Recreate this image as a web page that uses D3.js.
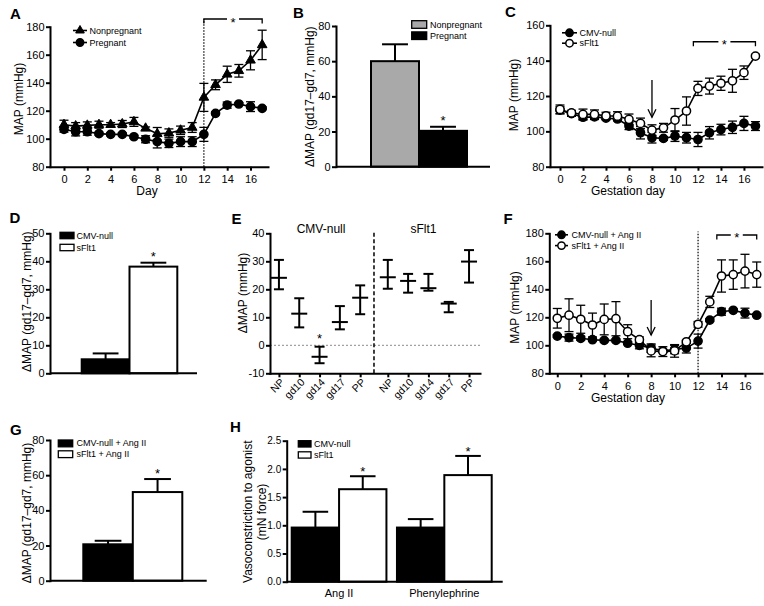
<!DOCTYPE html>
<html><head><meta charset="utf-8">
<script src="https://cdn.jsdelivr.net/npm/d3@7/dist/d3.min.js"></script>
<style>
body{margin:0;background:#fff;}
svg text{font-family:"Liberation Sans",Arial,Helvetica,sans-serif;fill:#000;}
</style></head><body>
<svg id="fig" width="764" height="606" xmlns="http://www.w3.org/2000/svg"></svg>
<script>
// ================= DATA =================
const days = [0,1,2,3,4,5,6,7,8,9,10,11,12,13,14,15,16,17];
const dayTicks = [0,2,4,6,8,10,12,14,16];

// Panel A
const aNonpregMean = [110,109,109.5,110,110,110.5,112,107.4,103.5,104,106,108,129.5,138.5,146,148.5,156,167];
const aNonpregErr  = [3.2,2.5,2.5,2.5,1.5,2.5,3.2,1,4.5,3,3,3.5,10,3.5,5.8,4.5,6.8,10.5];
const aPregMean    = [106.7,105,105,103.6,103.1,103.1,101.4,99.6,97.9,96.7,97.9,97.9,103.1,118.1,124,124.8,122.9,121.7];
const aPregErr     = [2,3,2.5,1,1,1,1,2.5,4.5,3,3.5,3.5,5,1,2.2,1,3.5,1];
const aYTicks = [80,100,120,140,160,180];

// Panel B
const bCats = ["Nonpregnant","Pregnant"];
const bMean = [60,20.4];
const bErr  = [9.6,2.3];
const bYTicks = [0,20,40,60,80];

// Panel C
const cCmvMean  = [112,110,108,108.2,107.5,107,103,99.2,96.4,96,97.3,96.4,95.4,99.2,101,102.3,104.5,103];
const cCmvErr   = [2,1.5,1.5,1.5,1,1,2,3.5,3,1,3,3,4,3.5,3,3.5,4,2.5];
const cSfltMean = [112.4,110.4,109.6,109.6,108.8,108.6,106.8,104.5,100.7,102,106.4,111.5,124.3,125.6,127.2,128.6,133.2,142.6];
const cSfltErr  = [2.5,1.5,3,2.5,2,2.5,3,3,3,2.5,6.5,8,4,4.5,4,6.5,3.8,1];
const cYTicks = [80,100,120,140,160];

// Panel D
const dCats = ["CMV-null","sFlt1"];
const dMean = [5,38.1];
const dErr  = [2.1,1.4];
const dYTicks = [0,10,20,30,40,50];

// Panel E
const eGroups = ["CMV-null","sFlt1"];
const eCats = ["NP","gd10","gd14","gd17","PP"];
const eCmvMean  = [24.1,11.3,-4.1,8.3,17];
const eCmvLo    = [20,6.4,-6.4,5.7,11.1];
const eCmvHi    = [30.5,16.8,-0.5,14,21.4];
const eSfltMean = [24.3,23,20.4,14.9,29.9];
const eSfltLo   = [20.2,18.8,19.5,11.8,22.4];
const eSfltHi   = [30.5,25.5,25.5,15.5,34];
const eYTicks = [-10,0,10,20,30,40];

// Panel F
const fCmvMean  = [106.6,105.5,105,104,103.5,103.5,101.5,100,98,96,97,98,103,118,124,125,123,121.5];
const fCmvErr   = [1,2.5,1.5,1,1,1,1,2.5,3,1,3,3.5,5,1,2.5,1,3.5,1];
const fSfltMean = [119.3,121.5,118.6,114.5,118.5,119,109.7,104,96,95.5,96,102.5,115,131,149.5,150.5,153,150.5];
const fSfltErr  = [7,11.7,10,8.5,11,12.2,5,2,4.2,3.5,4.5,1,2,4,11.5,10.5,12,9];
const fYTicks = [80,100,120,140,160,180];

// Panel G
const gCats = ["CMV-null + Ang II","sFlt1 + Ang II"];
const gMean = [20.7,50.4];
const gErr  = [2,7.4];
const gYTicks = [0,20,40,60,80];

// Panel H
const hGroups = ["Ang II","Phenylephrine"];
const hSeries = ["CMV-null","sFlt1"];
const hCmvMean  = [0.96,0.96];
const hCmvErr   = [0.28,0.15];
const hSfltMean = [1.64,1.89];
const hSfltErr  = [0.23,0.34];
const hYTicks = [0,0.5,1.0,1.5,2.0,2.5];

// ================= DRAWING =================
const svg = d3.select("#fig");

function styleAxis(sel, fs) {
  sel.attr("font-family", null).attr("font-size", null);
  sel.select(".domain").attr("stroke","#000").attr("stroke-width",2).attr("stroke-linecap","square");
  sel.selectAll(".tick line").attr("stroke","#000").attr("stroke-width",2);
  sel.selectAll(".tick text").attr("fill","#000").style("font-size", fs + "px");
}
function letter(x, y, s) {
  svg.append("text").attr("x",x).attr("y",y).style("font-size","15px").style("font-weight","bold").text(s);
}
function yTitle(bx, cy, s) {
  svg.append("text").attr("transform",`translate(${bx},${cy}) rotate(-90)`)
    .attr("text-anchor","middle").style("font-size","12px").text(s);
}
function xTitle(cx, by, s) {
  svg.append("text").attr("x",cx).attr("y",by).attr("text-anchor","middle").style("font-size","12px").text(s);
}
function star(g, x, cy) {
  g.append("text").attr("x",x).attr("y",cy + 7.5).attr("text-anchor","middle").style("font-size","13px").text("*");
}
function marker(g, type, fill, cx, cy, sc) {
  sc = sc || 1;
  if (type === "tri") {
    g.append("path").attr("d", d3.symbol(d3.symbolTriangle, 40 * sc * sc)()).attr("transform",`translate(${cx},${cy})`)
      .attr("fill","#000").attr("stroke","#000").attr("stroke-width",1);
  } else {
    g.append("circle").attr("cx",cx).attr("cy",cy).attr("r",4.1 * sc)
      .attr("fill",fill).attr("stroke","#000").attr("stroke-width",1.5);
  }
}

function linePanel(o) {
  const g = svg.append("g");
  const x = d3.scaleLinear().domain(o.xDom).range(o.xRange);
  const y = d3.scaleLinear().domain(o.yDom).range(o.yRange);

  if (o.vline) {
    g.append("line").attr("x1",x(o.vline.at)).attr("x2",x(o.vline.at))
      .attr("y1",y(o.yDom[0])).attr("y2",y(o.vline.top))
      .attr("stroke","#000").attr("stroke-width",1.2).attr("stroke-dasharray","1.5,1.5");
  }
  o.series.forEach(s => {
    g.append("path").datum(days)
      .attr("d", d3.line().x(d => x(d)).y((d,i) => y(s.mean[i])))
      .attr("fill","none").attr("stroke","#000").attr("stroke-width",1.6);
  });
  o.series.forEach(s => {
    days.forEach((d,i) => {
      const cx = x(d), hi = y(s.mean[i] + s.err[i]), lo = y(s.mean[i] - s.err[i]);
      g.append("line").attr("x1",cx).attr("x2",cx).attr("y1",lo).attr("y2",hi).attr("stroke","#000").attr("stroke-width",1.3);
      [lo,hi].forEach(yy => g.append("line").attr("x1",cx-4.5).attr("x2",cx+4.5).attr("y1",yy).attr("y2",yy).attr("stroke","#000").attr("stroke-width",1.3));
    });
    days.forEach((d,i) => marker(g, s.type, s.fill, x(d), y(s.mean[i])));
  });
  const ax = g.append("g").attr("transform",`translate(0,${o.yRange[0]})`)
    .call(d3.axisBottom(x).tickValues(dayTicks).tickSize(4).tickSizeOuter(0).tickPadding(5));
  styleAxis(ax, 11);
  const ay = g.append("g").attr("transform",`translate(${o.xRange[0]},0)`)
    .call(d3.axisLeft(y).tickValues(o.yTicks).tickSize(4).tickSizeOuter(0).tickPadding(1.5));
  styleAxis(ay, 11);

  if (o.bracket) {
    const b = o.bracket, x0 = x(b.from), x1 = x(b.to), yy = y(b.at), mid = (x0 + x1) / 2;
    g.append("path").attr("d",`M${x0},${yy+4.5}V${yy}H${mid-6}M${mid+6},${yy}H${x1}V${yy+4.5}`)
      .attr("fill","none").attr("stroke","#000").attr("stroke-width",1.3);
    star(g, mid, yy);
  }
  if (o.arrow) {
    const ax0 = x(o.arrow.at), t = y(o.arrow.from), b = y(o.arrow.to);
    g.append("line").attr("x1",ax0).attr("x2",ax0).attr("y1",t).attr("y2",b).attr("stroke","#000").attr("stroke-width",1.3);
    g.append("path").attr("d",`M${ax0-4},${b-8}L${ax0},${b}L${ax0+4},${b-8}`).attr("fill","none").attr("stroke","#000").attr("stroke-width",1.3);
  }
  o.series.forEach((s,i) => {
    const ly = o.legend.ys[i];
    g.append("line").attr("x1",o.legend.x0).attr("x2",o.legend.x1).attr("y1",ly).attr("y2",ly).attr("stroke","#000").attr("stroke-width",1.6);
    marker(g, s.type, s.fill, (o.legend.x0 + o.legend.x1)/2, ly, 0.9);
    g.append("text").attr("x",o.legend.tx).attr("y",ly).attr("dominant-baseline","central").style("font-size","9px").text(s.label);
  });
}

function barAxisY(g, y, xPos, ticks, fmt, fs) {
  const ay = g.append("g").attr("transform",`translate(${xPos},0)`)
    .call(d3.axisLeft(y).tickValues(ticks).tickSize(4).tickSizeOuter(0).tickPadding(1.5).tickFormat(fmt || (d => String(d))));
  styleAxis(ay, fs || 11);
}
function barLegend(g, lg, labels, fills) {
  labels.forEach((lab,i) => {
    g.append("rect").attr("x",lg.x).attr("y",lg.ys[i]).attr("width",lg.w).attr("height",lg.h)
      .attr("fill",fills[i]).attr("stroke","#000").attr("stroke-width",1.3);
    g.append("text").attr("x",lg.tx).attr("y",lg.ys[i] + lg.h/2).attr("dominant-baseline","central").style("font-size","9px").text(lab);
  });
}
function drawBar(g, x0, w, val, err, y, fill) {
  g.append("rect").attr("x",x0).attr("y",y(val)).attr("width",w).attr("height",y(0)-y(val))
    .attr("fill",fill).attr("stroke","#000").attr("stroke-width",2);
  const cx = x0 + w/2, top = y(val + err);
  g.append("line").attr("x1",cx).attr("x2",cx).attr("y1",y(val)).attr("y2",top).attr("stroke","#000").attr("stroke-width",2);
  g.append("line").attr("x1",cx - w*0.27).attr("x2",cx + w*0.27).attr("y1",top).attr("y2",top).attr("stroke","#000").attr("stroke-width",2);
}

function barPanel(o) {
  const g = svg.append("g");
  const x = d3.scaleBand().domain(o.cats).range(o.barRange).padding(0);
  const y = d3.scaleLinear().domain(o.yDom).range(o.yRange);
  o.cats.forEach((c,i) => drawBar(g, x(c), x.bandwidth(), o.mean[i], o.err[i], y, o.fills[i]));
  o.stars.forEach(i => star(g, x(o.cats[i]) + x.bandwidth()/2, y(o.mean[i] + o.err[i]) - 9));
  g.append("line").attr("x1",o.yAxisX).attr("x2",o.axisEnd).attr("y1",y(0)).attr("y2",y(0)).attr("stroke","#000").attr("stroke-width",2);
  barAxisY(g, y, o.yAxisX, o.yTicks);
  barLegend(g, o.legend, o.cats, o.fills);
}

// ---------- Panel A ----------
letter(10, 18.5, "A");
linePanel({
  xDom:[-1.2,17.5], xRange:[50,268], yDom:[80,180], yRange:[166.7,26.7], yTicks:aYTicks,
  series:[
    {label:"Nonpregnant", mean:aNonpregMean, err:aNonpregErr, type:"tri", fill:"#000"},
    {label:"Pregnant", mean:aPregMean, err:aPregErr, type:"circle", fill:"#000"}
  ],
  vline:{at:12, top:185.5},
  bracket:{from:12, to:17, at:185.5},
  legend:{x0:73, x1:87, ys:[30.5,42.5], tx:89.5}
});
yTitle(23, 99, "MAP (mmHg)");
xTitle(147, 195, "Day");

// ---------- Panel B ----------
letter(293, 18, "B");
barPanel({
  cats:bCats, mean:bMean, err:bErr, fills:["#a9a9a9","#000"], stars:[1],
  barRange:[371,467], yDom:[0,80], yRange:[166.7,26], yTicks:bYTicks, yAxisX:336, axisEnd:490,
  legend:{x:411.7, w:15, h:7.6, ys:[20.7,31.9], tx:430}
});
yTitle(314, 96.7, "ΔMAP (gd17–gd7, mmHg)");

// ---------- Panel C ----------
letter(505, 17, "C");
linePanel({
  xDom:[-0.87,17.57], xRange:[550,762], yDom:[80,160], yRange:[166.7,25.3], yTicks:cYTicks,
  series:[
    {label:"CMV-null", mean:cCmvMean, err:cCmvErr, type:"circle", fill:"#000"},
    {label:"sFlt1", mean:cSfltMean, err:cSfltErr, type:"circle", fill:"#fff"}
  ],
  bracket:{from:11.6, to:17, at:150.7},
  arrow:{at:8, from:129, to:108},
  legend:{x0:562, x1:577, ys:[32.8,43.2], tx:579.5}
});
yTitle(518, 95, "MAP (mmHg)");
xTitle(628, 195, "Gestation day");

// ---------- Panel D ----------
letter(9.5, 223, "D");
barPanel({
  cats:dCats, mean:dMean, err:dErr, fills:["#000","#fff"], stars:[1],
  barRange:[81.7,177.3], yDom:[0,50], yRange:[373.3,233.3], yTicks:dYTicks, yAxisX:50, axisEnd:197,
  legend:{x:60, w:14, h:6.4, ys:[232.3,244.3], tx:76.5}
});
yTitle(30.5, 301.7, "ΔMAP (gd17–gd7, mmHg)");

// ---------- Panel E ----------
letter(231.5, 224, "E");
(function(){
  const g = svg.append("g");
  const groupOffset = 5.36;
  const xE = d3.scaleLinear().domain([-0.44, 9.9]).range([270, 480]);
  const yE = d3.scaleLinear().domain([-10, 40]).range([373.3, 233.3]);
  const slots = [], labels = [];
  const groups = [
    {mean:eCmvMean, lo:eCmvLo, hi:eCmvHi},
    {mean:eSfltMean, lo:eSfltLo, hi:eSfltHi}
  ];
  g.append("line").attr("x1",270).attr("x2",480).attr("y1",yE(0)).attr("y2",yE(0))
    .attr("stroke","#8a8a8a").attr("stroke-width",1).attr("stroke-dasharray","2,2");
  const divX = xE((eCats.length - 1 + groupOffset) / 2);
  g.append("line").attr("x1",divX).attr("x2",divX).attr("y1",yE(-10)).attr("y2",yE(40.6))
    .attr("stroke","#000").attr("stroke-width",1.5).attr("stroke-dasharray","4,2.5");
  groups.forEach((gr, gi) => {
    eCats.forEach((c, ci) => {
      const s = ci + gi * groupOffset;
      slots.push(s); labels.push(c);
      const cx = xE(s);
      g.append("line").attr("x1",cx).attr("x2",cx).attr("y1",yE(gr.lo[ci])).attr("y2",yE(gr.hi[ci])).attr("stroke","#000").attr("stroke-width",2);
      [gr.lo[ci], gr.hi[ci]].forEach(v => g.append("line").attr("x1",cx-5).attr("x2",cx+5).attr("y1",yE(v)).attr("y2",yE(v)).attr("stroke","#000").attr("stroke-width",2));
      g.append("line").attr("x1",cx-8).attr("x2",cx+8).attr("y1",yE(gr.mean[ci])).attr("y2",yE(gr.mean[ci])).attr("stroke","#000").attr("stroke-width",2);
    });
    const mid = xE((eCats.length - 1) / 2 + gi * groupOffset) + (gi === 0 ? 1.5 : -5);
    g.append("text").attr("x",mid).attr("y",232.7).attr("text-anchor","middle").style("font-size","12px").text(eGroups[gi]);
  });
  star(g, xE(2), yE(eCmvHi[2]) - 11);
  const ax = g.append("g").attr("transform",`translate(0,${yE(-10)})`)
    .call(d3.axisBottom(xE).tickValues(slots).tickSize(4).tickSizeOuter(0).tickFormat((d,i) => labels[i]));
  styleAxis(ax, 10.5);
  ax.selectAll(".tick text").attr("y",0).attr("dy","0.35em").attr("text-anchor","end")
    .attr("transform","translate(3,7) rotate(-45)");
  const ay = g.append("g").attr("transform",`translate(270,0)`)
    .call(d3.axisLeft(yE).tickValues(eYTicks).tickSize(4).tickSizeOuter(0).tickPadding(1.5).tickFormat(d => String(d)));
  styleAxis(ay, 11);
})();
yTitle(247, 293, "ΔMAP (mmHg)");

// ---------- Panel F ----------
letter(503.5, 224, "F");
linePanel({
  xDom:[-0.68,17.45], xRange:[549.3,762], yDom:[80,180], yRange:[373.3,233.3], yTicks:fYTicks,
  series:[
    {label:"CMV-null + Ang II", mean:fCmvMean, err:fCmvErr, type:"circle", fill:"#000"},
    {label:"sFlt1 + Ang II", mean:fSfltMean, err:fSfltErr, type:"circle", fill:"#fff"}
  ],
  vline:{at:12, top:181.2},
  bracket:{from:13.6, to:17, at:178.8},
  arrow:{at:8, from:132.4, to:107.4},
  legend:{x0:555, x1:568, ys:[234.8,245.6], tx:571.5}
});
yTitle(519, 307.5, "MAP (mmHg)");
xTitle(628, 402, "Gestation day");

// ---------- Panel G ----------
letter(10, 435, "G");
barPanel({
  cats:gCats, mean:gMean, err:gErr, fills:["#000","#fff"], stars:[1],
  barRange:[83.3,182.3], yDom:[0,80], yRange:[580.7,440], yTicks:gYTicks, yAxisX:50, axisEnd:206.7,
  legend:{x:58.3, w:14.4, h:6.8, ys:[440,450.8], tx:76.5}
});
yTitle(30.5, 513, "ΔMAP (gd17–gd7, mmHg)");

// ---------- Panel H ----------
letter(230, 431.7, "H");
(function(){
  const g = svg.append("g");
  const xG = d3.scaleBand().domain(hGroups).range([291.7, 491.7]).paddingInner(0.1).paddingOuter(0);
  const xS = d3.scaleBand().domain(hSeries).range([0, xG.bandwidth()]).padding(0);
  const y = d3.scaleLinear().domain([0, 2.5]).range([581.7, 440.7]);
  const series = [
    {mean:hCmvMean, err:hCmvErr, fill:"#000"},
    {mean:hSfltMean, err:hSfltErr, fill:"#fff"}
  ];
  hGroups.forEach((grp, gi) => {
    series.forEach((s, si) => {
      drawBar(g, xG(grp) + xS(hSeries[si]), xS.bandwidth(), s.mean[gi], s.err[gi], y, s.fill);
    });
    const sx = xG(grp) + xS(hSeries[1]) + xS.bandwidth()/2;
    star(g, sx, y(hSfltMean[gi] + hSfltErr[gi]) - 7.5);
    g.append("text").attr("x", xG(grp) + xG.bandwidth()/2).attr("y", 597).attr("text-anchor","middle").style("font-size","11px").text(grp);
  });
  g.append("line").attr("x1",286.7).attr("x2",502.7).attr("y1",y(0)).attr("y2",y(0)).attr("stroke","#000").attr("stroke-width",2);
  barAxisY(g, y, 286.7, hYTicks, d3.format(".1f"), 10);
  barLegend(g, {x:298.3, w:12.7, h:6.3, ys:[440.7,451.8], tx:314}, hSeries, ["#000","#fff"]);
})();
svg.append("text").attr("transform","translate(252,511.7) rotate(-90)").attr("text-anchor","middle").style("font-size","12px").text("Vasoconstriction to agonist");
svg.append("text").attr("transform","translate(266,512) rotate(-90)").attr("text-anchor","middle").style("font-size","12px").text("(mN force)");
</script>
</body></html>
